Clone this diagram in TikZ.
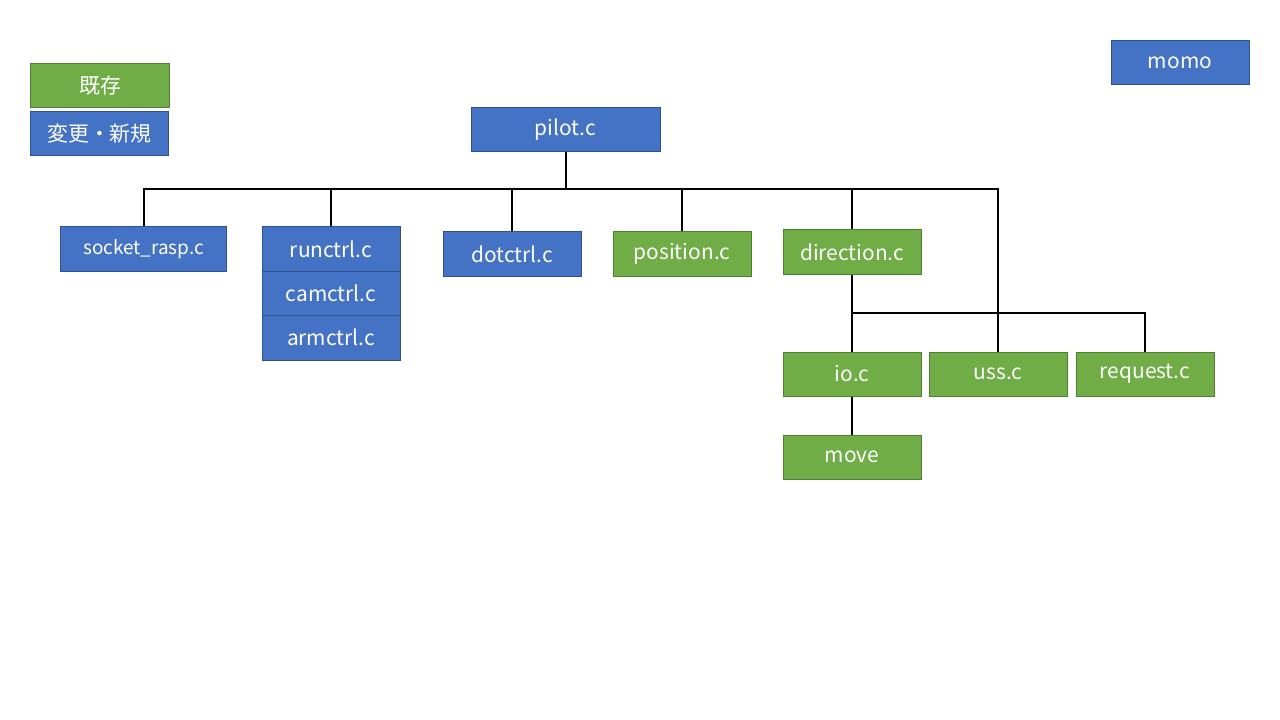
\documentclass[tikz,border=0pt]{standalone}
\usepackage{fontspec}
\setmainfont{Noto Sans CJK JP}
\definecolor{blueFill}{HTML}{4472C4}
\definecolor{blueLine}{HTML}{2F528F}
\definecolor{greenFill}{HTML}{70AD47}
\definecolor{greenLine}{HTML}{507E32}
\tikzset{
  mod/.style={rectangle,draw,line width=1bp,text=white,inner sep=0pt,
    minimum width=138bp,minimum height=44bp,font=\fontsize{21}{24}\selectfont},
  newmod/.style={mod,fill=blueFill,draw=blueLine},
  oldmod/.style={mod,fill=greenFill,draw=greenLine},
  wire/.style={line width=2bp,black}
}
\begin{document}
\begin{tikzpicture}[x=1bp,y=-1bp]
\useasboundingbox[fill=white] (0,0) rectangle (1280,720);

% legend
\node[oldmod] (old) at (100,85.5){既存};
\node[newmod] (new) at (99.5,134){変更・新規};
\node[newmod] (momo) at (1180,63){momo};

% modules
\node[newmod,minimum width=189bp] (pilot) at (565.5,130){pilot.c};
\node[newmod,minimum width=165bp,font=\fontsize{19}{22}\selectfont] (sock) at (143.5,249){socket\_rasp.c};
\node[newmod] (run) at (331,249){runctrl.c};
\node[newmod] (cam) at (331,293){camctrl.c};
\node[newmod,minimum height=45bp] (arm) at (331,337.5){armctrl.c};
\node[newmod] (dot) at (512,254){dotctrl.c};
\node[oldmod] (pos) at (682,254){position.c};
\node[oldmod] (dir) at (852,252){direction.c};
\node[oldmod] (io) at (852,374){io.c};
\node[oldmod] (uss) at (998,374){uss.c};
\node[oldmod] (req) at (1145,374){request.c};
\node[oldmod] (move) at (852,457){move};

\coordinate (bus) at (565.5,189);
\coordinate (bus2) at (852,313);

\draw[wire] (pilot.south) -- (bus);
\draw[wire] (bus) -| (sock.north);
\draw[wire] (bus) -| (run.north);
\draw[wire] (bus) -| (dot.north);
\draw[wire] (bus) -| (pos.north);
\draw[wire] (bus) -| (dir.north);
\draw[wire] (bus) -| (uss.north);
\draw[wire] (dir.south) -- (io.north);
\draw[wire] (bus2) -| (req.north);
\draw[wire] (io.south) -- (move.north);
\end{tikzpicture}
\end{document}
